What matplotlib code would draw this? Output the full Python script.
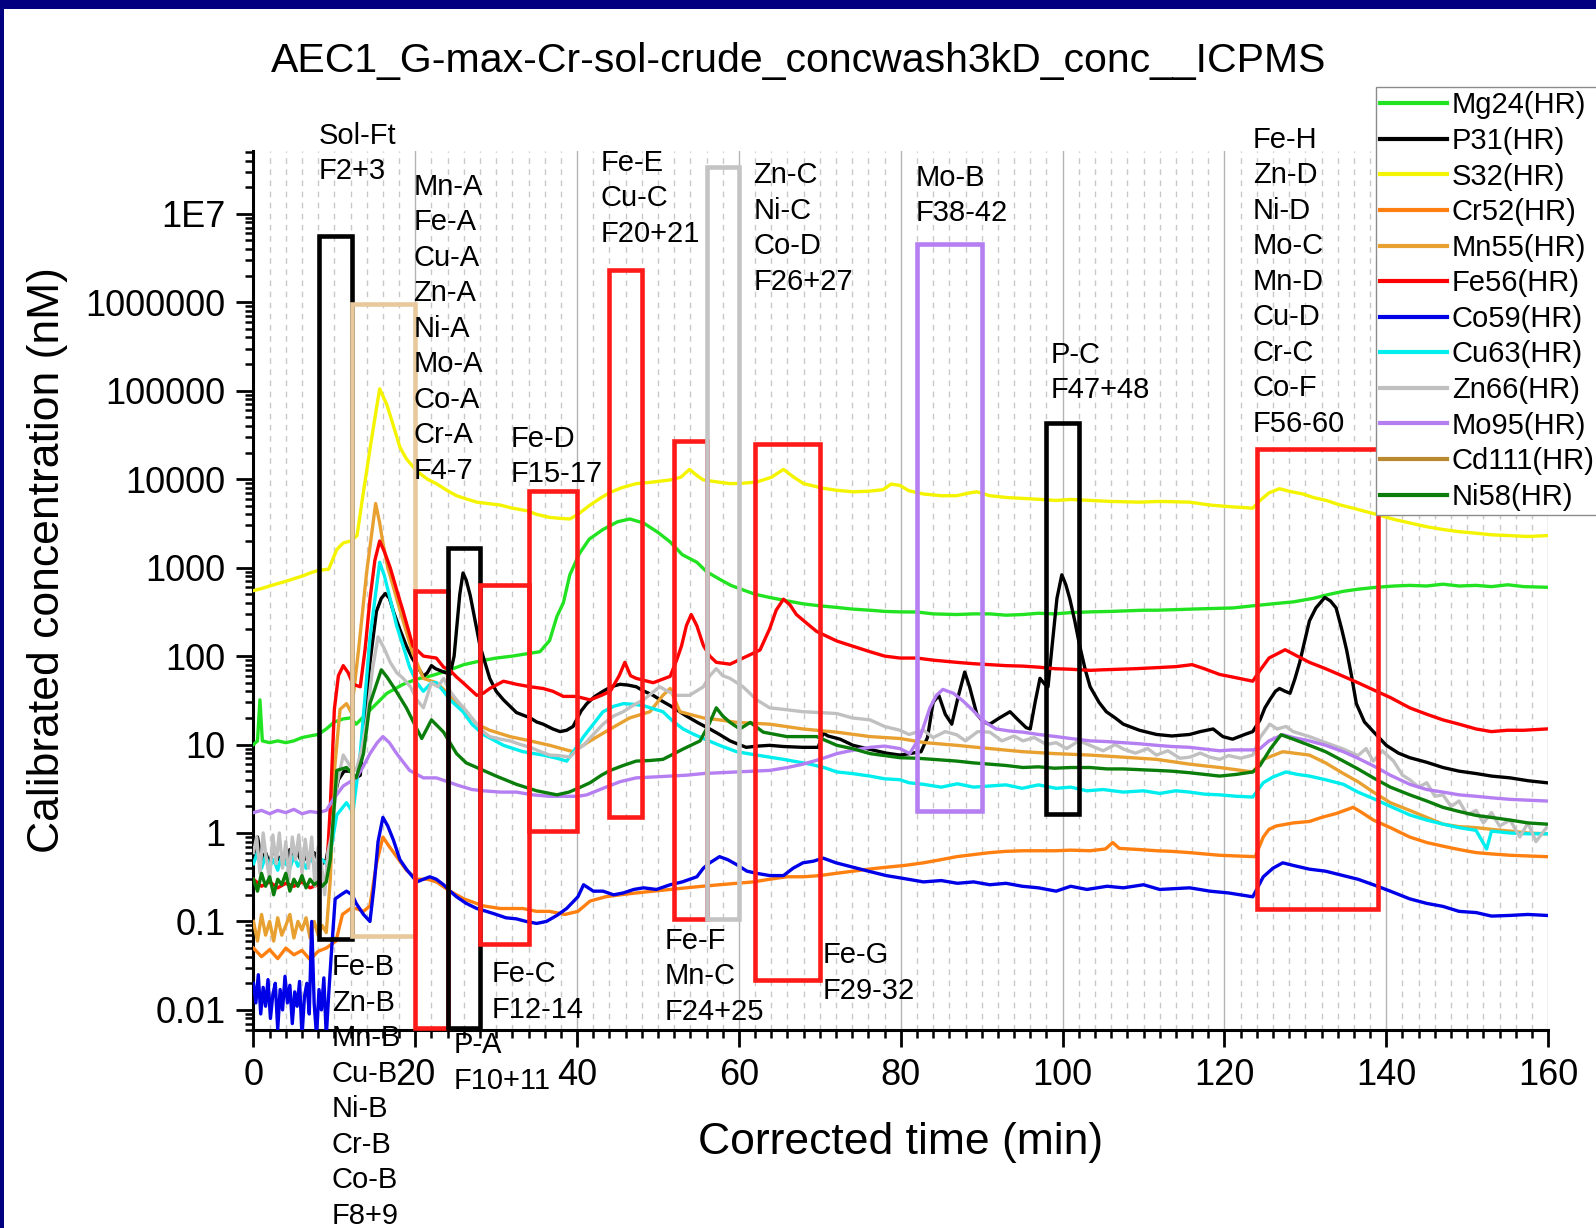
import matplotlib
matplotlib.use('Agg')
import matplotlib.pyplot as plt
from matplotlib.patches import Rectangle
from matplotlib.ticker import FixedLocator, MultipleLocator, NullFormatter

plt.rcParams['font.family'] = ['Liberation Sans', 'DejaVu Sans']

# --- CONFIGURATION ---
TITLE = 'AEC1_G-max-Cr-sol-crude_concwash3kD_conc__ICPMS'
X_LABEL = 'Corrected time (min)'
Y_LABEL = 'Calibrated concentration (nM)'

X_TICKS = [0, 20, 40, 60, 80, 100, 120, 140, 160]
Y_TICKS = [0.01, 0.1, 1, 10, 100, 1000, 10000, 100000, 1000000, 1e7]
Y_TICK_LABELS = ['0.01', '0.1', '1', '10', '100', '1000', '10000', '100000', '1000000', '1E7']

# --- DATA: (time min, concentration nM) ---
MG24 = [(0, 10), (0.5, 11), (0.8, 32), (1.1, 11), (2, 10.5), (3, 11), (4, 10.5), (5, 11), (6, 12),
        (7, 12.5), (8, 13), (9, 15), (10, 18), (11.1, 19.5), (12, 20), (12.7, 17), (14.5, 25),
        (16.5, 38), (18.5, 48), (20.2, 55), (22, 60), (23.9, 68), (26, 80), (28, 88), (30, 95),
        (32, 100), (34, 107), (35.4, 112), (36.6, 150), (37.5, 280), (38.3, 400), (39.1, 830),
        (40.3, 1450), (41.5, 2100), (43.2, 2700), (45, 3300), (46.5, 3550), (48.2, 3200),
        (50, 2500), (51.5, 1950), (53, 1400), (54.8, 1150), (56, 900), (57.6, 740), (59, 630),
        (60.5, 560), (62, 500), (63.8, 460), (66, 420), (67.9, 390), (70, 370), (72.1, 355),
        (74, 340), (76.2, 330), (78, 320), (79.9, 316), (82, 315), (84, 300), (86.9, 295),
        (89, 300), (91, 300), (93, 290), (95.1, 295), (97, 305), (99, 300), (101, 310),
        (103.4, 316), (106, 320), (108, 325), (110, 330), (111.6, 330), (114, 335), (116, 340),
        (119.4, 347), (121, 350), (123.5, 370), (126, 390), (128.5, 410), (131, 450), (133, 500),
        (134.7, 540), (136.5, 570), (138.8, 600), (141, 620), (142.9, 630), (145, 620), (147, 650),
        (149, 620), (151.1, 630), (153, 610), (155, 640), (157, 610), (159.8, 600)]

P31 = [(0, 0.55), (0.5, 0.9), (1, 0.5), (1.5, 0.6), (2, 0.45), (2.5, 0.7), (3, 0.5), (3.5, 0.55),
       (4, 0.45), (4.5, 0.65), (5, 0.5), (5.5, 0.6), (6, 0.45), (6.5, 0.55), (7, 0.5), (7.5, 0.6),
       (8, 0.5), (8.5, 0.45), (9, 0.5), (9.5, 0.9), (10, 2.5), (10.5, 4), (11.2, 5), (12, 5),
       (12.7, 4.2), (13.2, 4.5), (13.8, 20), (14.4, 85), (15.2, 320), (15.8, 450), (16.3, 510),
       (16.8, 450), (17.3, 320), (18.1, 200), (18.9, 130), (19.6, 95), (20.2, 78), (21, 59),
       (21.5, 65), (22, 78), (22.5, 72), (23, 69), (24.3, 62), (24.8, 100), (25.1, 200),
       (25.5, 500), (25.9, 870), (26.3, 720), (26.8, 480), (27.4, 250), (28, 130), (28.6, 85),
       (29.2, 56), (30, 40), (30.9, 32), (32.5, 23), (34.2, 20), (35, 18), (35.8, 17), (37, 15),
       (37.9, 14), (38.7, 14.5), (39.5, 16), (40.5, 24), (41.2, 29), (42.2, 35), (43.2, 40),
       (44.2, 45), (45.3, 48), (46.3, 47), (47.3, 45), (48.3, 40), (49.4, 36), (50.5, 31),
       (51.5, 27.5), (52.5, 24), (53.5, 21), (55, 17.5), (56.4, 15), (57.6, 13), (58.9, 11),
       (60, 10), (60.9, 9.3), (62.3, 9.6), (63.8, 9.8), (65.5, 9.5), (67.9, 9.3), (69.8, 9.3),
       (70.4, 13.5), (71, 12.5), (72.5, 11.5), (74.1, 9.8), (76, 8.9), (78.2, 8), (79.9, 7.6),
       (81.1, 7.9), (82.5, 8.3), (83.3, 12), (84.0, 30), (84.7, 36), (85.5, 22), (86.3, 17),
       (87.1, 35), (87.9, 66), (88.5, 45), (89.4, 22), (90.2, 18), (91, 17), (92.2, 20),
       (93.5, 23.5), (94.5, 19), (95.5, 15.5), (96, 15), (96.6, 30), (97.2, 56), (97.8, 48),
       (98.2, 45), (98.7, 130), (99.3, 450), (99.9, 830), (100.4, 640), (100.9, 440), (101.5, 250),
       (102.1, 132), (102.8, 70), (103.4, 45), (104.5, 30), (105.4, 23.5), (106.5, 20),
       (107.5, 17), (109.5, 14.5), (111.6, 13), (113.5, 12.5), (115.7, 13), (117, 14),
       (118.6, 15), (119.8, 12.3), (121, 11.5), (122.5, 13), (123.5, 14), (124.4, 19), (125, 26),
       (125.6, 32), (126.3, 40), (126.8, 43), (127.5, 40), (128.1, 38), (128.7, 55), (129.3, 85),
       (130, 160), (130.5, 250), (131.3, 350), (132.4, 460), (133.1, 420), (133.8, 350),
       (134.5, 200), (135.1, 117), (135.7, 60), (136.3, 29), (137.3, 18), (138.4, 14), (140, 9.8),
       (141.5, 8), (142.9, 7.1), (145, 6.3), (147, 5.5), (149, 5), (151.1, 4.7), (153, 4.4),
       (155.3, 4.2), (157.5, 3.9), (159.8, 3.7)]

S32 = [(0, 550), (1, 580), (2, 620), (3, 660), (4, 700), (5, 750), (6, 800), (7, 870), (8, 930),
       (9.3, 960), (10.3, 1600), (11.1, 1900), (12, 2000), (12.8, 2300), (13.5, 6300), (14.5, 25000),
       (15.2, 63000), (15.6, 105000), (16.5, 69000), (17.3, 40000), (18.1, 23000), (18.9, 17000),
       (20.2, 12300), (21.5, 10000), (22.6, 8900), (24, 7400), (25.1, 6500), (26.5, 5900),
       (27.6, 5500), (29, 5300), (30.5, 5100), (32, 4700), (33.8, 4400), (35, 4000), (36.6, 3700),
       (38, 3600), (39.1, 3550), (40.1, 4000), (41.6, 5100), (43, 6200), (44.1, 7100), (45.5, 8000),
       (47.3, 8900), (49, 9200), (51.5, 9800), (52.8, 10500), (53.9, 12900), (54.8, 11000),
       (55.6, 9800), (57, 9400), (58.9, 8900), (60.5, 9000), (62.2, 9300), (64, 10500),
       (65.5, 12900), (66.8, 10500), (68, 8900), (70.4, 7900), (72, 7500), (74.1, 7200),
       (76, 7300), (77.8, 7600), (78.8, 8800), (79.9, 8500), (81, 7400), (82.8, 6800), (85, 6500),
       (86.9, 6500), (88.5, 7000), (89.4, 7200), (91, 6500), (93.1, 6200), (96, 6000),
       (99.2, 5750), (101, 5900), (103.4, 5750), (106, 5600), (109.5, 5500), (112, 5600),
       (115.7, 5500), (118.2, 5100), (120.5, 4900), (123.5, 4700), (124.4, 5750), (125.5, 7000),
       (126.8, 7800), (128, 7300), (129.7, 6800), (131, 6200), (132.6, 5750), (134, 5200),
       (135.9, 4700), (137.5, 4300), (138.8, 4000), (141, 3500), (142.9, 3200), (145, 2900),
       (147, 2700), (149, 2550), (151.1, 2450), (153, 2350), (155.3, 2300), (157.5, 2250),
       (159.8, 2300)]

CR52 = [(0, 0.05), (1, 0.04), (2, 0.048), (3, 0.038), (4, 0.05), (5, 0.042), (6, 0.047), (7, 0.037),
        (8, 0.046), (9, 0.05), (10.2, 0.06), (11, 0.12), (12, 0.14), (12.7, 0.14), (13.6, 0.13),
        (14.4, 0.15), (15.2, 0.45), (16, 0.9), (16.8, 0.7), (17.7, 0.54), (18.9, 0.38), (20.2, 0.3),
        (21.5, 0.3), (22.6, 0.28), (24.3, 0.22), (26, 0.18), (28.4, 0.15), (30.5, 0.14),
        (33.3, 0.14), (35, 0.13), (36.6, 0.13), (38.5, 0.12), (40.1, 0.13), (41.6, 0.17),
        (43.5, 0.19), (45.3, 0.2), (47.3, 0.21), (49.4, 0.22), (51.5, 0.23), (53.5, 0.24),
        (55.5, 0.25), (57.6, 0.26), (59.7, 0.27), (61.8, 0.28), (63.8, 0.3), (65.9, 0.32),
        (68, 0.32), (70, 0.33), (72, 0.35), (74.1, 0.37), (76, 0.39), (78.2, 0.41), (80.5, 0.43),
        (82.8, 0.46), (85, 0.5), (86.9, 0.54), (89, 0.57), (91, 0.6), (93, 0.62), (95.1, 0.63),
        (97, 0.63), (99.2, 0.63), (101, 0.64), (103.4, 0.63), (105.3, 0.66), (106.2, 0.78),
        (107, 0.67), (109.5, 0.65), (111.6, 0.63), (113.5, 0.62), (115.7, 0.6), (117.5, 0.58),
        (119.4, 0.56), (121.5, 0.55), (123.8, 0.54), (124.8, 0.9), (125.5, 1.1), (126.4, 1.2),
        (128.5, 1.3), (130.5, 1.35), (132, 1.5), (133.8, 1.66), (135.9, 1.95), (137, 1.7),
        (138.4, 1.4), (140.5, 1.15), (142.9, 0.9), (145, 0.78), (147, 0.71), (149, 0.65),
        (151.1, 0.6), (153, 0.58), (155.3, 0.56), (157.5, 0.55), (159.8, 0.54)]

MN55 = [(0, 0.1), (0.5, 0.06), (1, 0.12), (1.5, 0.07), (2, 0.1), (2.5, 0.06), (3, 0.11), (3.5, 0.07),
        (4, 0.09), (4.5, 0.12), (5, 0.065), (5.5, 0.1), (6, 0.08), (6.5, 0.11), (7, 0.065),
        (7.5, 0.1), (8, 0.07), (8.5, 0.09), (9, 0.075), (9.5, 0.3), (10, 5), (10.7, 25),
        (11.5, 29), (12.1, 23), (13, 120), (14, 900), (15.1, 5300), (15.6, 3200), (16, 1900),
        (16.6, 1000), (17.3, 600), (18.5, 250), (19.7, 107), (21, 56), (22.6, 50), (24.3, 36),
        (25.9, 26), (27.6, 17), (29.2, 14.5), (31.7, 12.3), (34.2, 11), (36.6, 9.8), (39.5, 8.3),
        (41.6, 11), (44.1, 15), (46.5, 20), (49, 23.5), (50.6, 36), (51.5, 43), (52.7, 23.5),
        (55.6, 20), (57.6, 19), (59.7, 17.8), (63.8, 17), (67.9, 15), (72.1, 13.8), (76.2, 12.3),
        (79.9, 11.7), (83, 10.5), (86.9, 9.8), (91, 9), (95.1, 8.3), (99, 7.9), (103.4, 7.6),
        (107.5, 7.2), (111.6, 6.8), (115.7, 6), (119.4, 5.5), (123.5, 4.9), (124.8, 6.8),
        (127.2, 8.3), (130.5, 7.6), (132.5, 6.2), (134.7, 4.7), (136.5, 3.8), (138.4, 2.9),
        (140.5, 2.2), (142.9, 1.8), (145, 1.5), (147, 1.26), (149, 1.18), (151.1, 1.15),
        (153, 1.1), (155.3, 1.05), (157.5, 1.0), (159.8, 0.98)]

FE56 = [(0, 0.3), (1, 0.25), (2, 0.28), (3, 0.24), (4, 0.27), (5, 0.25), (6, 0.28), (7, 0.24),
        (8, 0.26), (9, 0.3), (9.5, 2), (10, 25), (10.5, 60), (11.1, 78), (11.7, 65), (12.3, 48),
        (13.2, 45), (13.8, 120), (14.4, 440), (15, 1200), (15.6, 2000), (16.2, 1500), (16.9, 1000),
        (17.7, 560), (18.5, 320), (19.7, 130), (21, 100), (22.6, 95), (23.5, 75), (24.3, 69),
        (25.1, 58), (25.9, 50), (27.6, 36), (28.4, 38), (29.2, 43), (30.9, 52), (32.5, 48),
        (34.2, 45), (35.8, 43), (37, 40), (38.3, 35), (39.9, 35), (41.6, 32), (43, 36), (44.1, 40),
        (45.2, 60), (45.9, 85), (46.6, 60), (47.3, 56), (49.4, 50), (51.5, 59), (52.3, 90),
        (52.9, 130), (53.5, 220), (54.1, 295), (54.8, 220), (55.6, 132), (56.4, 100), (57.2, 85),
        (58.9, 81), (60.5, 95), (62.6, 117), (63.8, 204), (64.6, 330), (65.5, 440), (66.3, 380),
        (67.1, 295), (68.5, 230), (69.6, 190), (71, 165), (72.1, 148), (74, 130), (76.2, 112),
        (78, 100), (79.9, 95), (82, 95), (84, 90), (86.9, 85), (89, 82), (91, 80), (93, 78),
        (95.1, 77), (97, 75), (99, 72), (101, 71), (103.4, 69), (105, 70), (107, 71), (109, 72),
        (111.6, 74), (114, 76), (116, 80), (117.5, 72), (119.4, 62), (121, 58), (123.5, 52),
        (124.4, 69), (125.5, 95), (127.5, 118), (129, 100), (130.5, 85), (132.5, 72), (134.7, 59),
        (136.5, 50), (138.8, 40), (140.5, 34), (142.9, 26), (145, 22), (147, 19), (149, 17),
        (151.1, 15), (153, 14), (155, 14.5), (157, 14.5), (159.8, 15)]

CO59 = [(0, 0.02), (0.3, 0.012), (0.6, 0.025), (0.9, 0.009), (1.2, 0.018), (1.5, 0.011), (1.8, 0.022),
        (2.1, 0.008), (2.4, 0.015), (2.7, 0.02), (3.0, 0.006), (3.3, 0.017), (3.6, 0.01), (3.9, 0.024),
        (4.2, 0.012), (4.5, 0.019), (4.8, 0.007), (5.1, 0.016), (5.4, 0.011), (5.7, 0.021),
        (6.0, 0.005), (6.3, 0.014), (6.6, 0.02), (6.9, 0.009), (7.2, 0.1), (7.5, 0.012), (7.8, 0.005),
        (8.1, 0.017), (8.4, 0.01), (8.7, 0.023), (9.0, 0.005), (9.3, 0.015), (9.6, 0.04),
        (10.1, 0.18), (10.8, 0.2), (11.5, 0.22), (12.2, 0.2), (12.7, 0.16), (13.6, 0.12),
        (14.4, 0.1), (14.9, 0.25), (15.4, 0.8), (16, 1.5), (16.6, 1.2), (17.3, 0.83), (18.1, 0.5),
        (18.9, 0.39), (20.2, 0.28), (21, 0.3), (21.8, 0.32), (22.6, 0.3), (23.5, 0.26), (24.3, 0.22),
        (25.1, 0.19), (26.3, 0.16), (27.6, 0.14), (28.8, 0.13), (30, 0.12), (31.2, 0.11),
        (32.5, 0.107), (33.7, 0.1), (35, 0.095), (36.2, 0.1), (37.5, 0.117), (38.7, 0.14),
        (40.1, 0.19), (40.8, 0.26), (42, 0.22), (43.2, 0.22), (44.5, 0.2), (45.7, 0.21), (47, 0.23),
        (48.2, 0.24), (49.8, 0.23), (51.5, 0.26), (53, 0.28), (54.8, 0.32), (55.6, 0.4),
        (56.4, 0.46), (57.6, 0.54), (58.6, 0.5), (59.7, 0.44), (61, 0.37), (62.2, 0.35),
        (63.8, 0.33), (65.5, 0.33), (66.7, 0.4), (67.9, 0.46), (69.2, 0.48), (70.4, 0.52),
        (72, 0.46), (74.1, 0.41), (76, 0.37), (78.2, 0.33), (80, 0.31), (82.8, 0.28), (85, 0.29),
        (87, 0.27), (89, 0.28), (91, 0.26), (93, 0.27), (95, 0.25), (97, 0.24), (99.2, 0.22),
        (101, 0.25), (103, 0.23), (105.5, 0.25), (107.5, 0.24), (110, 0.26), (112, 0.23),
        (115.7, 0.24), (118.2, 0.22), (120.5, 0.21), (123.5, 0.19), (124.8, 0.32), (126, 0.4),
        (127.2, 0.46), (128.5, 0.43), (130.5, 0.39), (132.5, 0.37), (134.7, 0.33), (136.5, 0.3),
        (138.4, 0.26), (140.5, 0.22), (142.9, 0.18), (145, 0.16), (147, 0.148), (149, 0.13),
        (151.1, 0.126), (153, 0.115), (155.3, 0.117), (157.5, 0.12), (159.8, 0.117)]

CU63 = [(0, 0.45), (0.5, 0.6), (1, 0.4), (1.5, 0.55), (2, 0.42), (2.5, 0.5), (3, 0.38), (3.5, 0.55),
        (4, 0.45), (4.5, 0.4), (5, 0.55), (5.5, 0.42), (6, 0.5), (6.5, 0.4), (7, 0.52), (7.5, 0.45),
        (8, 0.42), (8.5, 0.5), (9, 0.45), (9.5, 0.6), (10.3, 1.6), (11.5, 2.2), (12.3, 1.7),
        (13.2, 8), (14.4, 160), (15.6, 1150), (16.2, 800), (16.9, 440), (17.7, 220), (18.5, 130),
        (19.3, 75), (20.2, 50), (21, 40), (22, 50), (22.6, 50), (23.5, 40), (24.3, 32),
        (25.9, 23.5), (27, 17), (28.4, 13), (30.9, 9.8), (33.3, 8.3), (35.8, 7.6), (37.5, 7),
        (38.7, 6.5), (40.1, 9.8), (40.8, 12.3), (42, 17), (43.2, 23.5), (44.5, 27), (45.7, 29),
        (47, 28.5), (48.2, 27.5), (50.6, 23.5), (51.8, 18.5), (53.1, 15), (54.3, 13.2),
        (55.6, 11.7), (57.6, 9.8), (59.7, 8.3), (62.2, 7.6), (65.5, 6.8), (68.8, 6), (70.5, 5.5),
        (72.1, 4.9), (74, 4.7), (76.2, 4.4), (78, 4.1), (79.9, 4.0), (81, 3.7), (82.8, 3.55),
        (85, 3.3), (87, 3.6), (89, 3.3), (91, 3.4), (93, 3.5), (95, 3.2), (97, 3.5), (99.2, 3.2),
        (101, 3.3), (103, 3.0), (105, 3.1), (107.5, 2.9), (110, 3.0), (112, 2.8), (114, 3.0),
        (115.7, 2.9), (117.5, 2.75), (119.4, 2.7), (121.5, 2.6), (123.5, 2.55), (124.8, 3.7),
        (126, 4.3), (127.6, 4.9), (129, 4.6), (130.5, 4.4), (132.5, 4.0), (134.7, 3.55),
        (136.5, 2.9), (138.4, 2.45), (140.5, 2.0), (142.9, 1.6), (145, 1.4), (147, 1.26),
        (149, 1.15), (151.1, 1.07), (152.4, 0.66), (153, 1.05), (155.3, 1.0), (157.5, 0.98),
        (159.8, 0.98)]

ZN66 = [(0, 0.6), (0.4, 0.9), (0.8, 0.35), (1.2, 1.0), (1.6, 0.5), (2.0, 0.3), (2.4, 0.95), (2.8, 0.45),
        (3.2, 1.0), (3.6, 0.4), (4.0, 0.8), (4.4, 0.3), (4.8, 0.9), (5.2, 0.5), (5.6, 0.95),
        (6.0, 0.35), (6.4, 0.85), (6.8, 0.4), (7.2, 0.9), (7.6, 0.25), (8.0, 0.7), (8.4, 0.45),
        (8.8, 0.2), (9.2, 0.6), (9.6, 0.9), (10.3, 3.5), (11.1, 7.6), (11.9, 5.8), (12.7, 5.1),
        (13.4, 9), (14, 19), (14.7, 70), (15.4, 165), (16.2, 120), (16.9, 85), (17.7, 65),
        (18.5, 56), (19.4, 45), (20.2, 32), (21, 26), (22, 50), (22.8, 45), (23.5, 56), (24.3, 40),
        (25.1, 32), (26.3, 24), (27.6, 17), (28.4, 14), (29.2, 12.3), (30.5, 11.5), (31.7, 11),
        (33, 10), (34.2, 9.3), (35.5, 8.3), (36.6, 7.6), (37.8, 7.5), (39.1, 7.2), (40.1, 8.9),
        (40.8, 9.8), (42, 13), (43.2, 17), (44.5, 21), (45.7, 23.5), (47, 28), (48.2, 32),
        (49.2, 38), (50.2, 45), (51.2, 40), (52.3, 36), (53.9, 36), (55.6, 45), (56.4, 60),
        (57.2, 72), (58, 60), (58.9, 56), (60.5, 45), (62.2, 32), (63.8, 26), (65.5, 25),
        (67.9, 23.5), (70, 23), (72.1, 22.4), (74, 20), (76.2, 19), (78, 16), (79.9, 14.5),
        (81, 13), (82.8, 14.5), (84, 12), (85.5, 14), (86.9, 12.9), (88, 11), (89.5, 14),
        (91, 13.8), (92.5, 11), (94, 12.5), (95.1, 11), (96.5, 12), (98, 10), (99.2, 10.5),
        (100.5, 9), (102, 11), (103.4, 9.8), (105, 8.5), (106.5, 10), (107.5, 8.9), (109, 8),
        (110.5, 9), (111.6, 7.6), (113, 8.5), (114.5, 7), (115.7, 7.2), (117, 8), (118.2, 7.2),
        (119.4, 6.8), (120.5, 7.5), (122, 7), (123.5, 7.6), (124.4, 12), (125.6, 17), (126.5, 15),
        (127.6, 16), (128.5, 14), (130.5, 12.3), (132.5, 10.5), (134.7, 8.9), (136.5, 7.5),
        (137.5, 9), (138.4, 6.5), (139.5, 8.5), (140.9, 6.5), (142, 4.5), (142.9, 4.0), (144, 3.3),
        (145, 3.7), (146, 2.6), (147, 2.7), (148, 2.0), (149, 2.3), (150, 1.6), (151.1, 1.8),
        (152, 1.3), (153, 1.7), (154, 1.2), (155.3, 1.4), (156.5, 0.9), (157.5, 1.3), (158.5, 0.8),
        (159.8, 1.15)]

MO95 = [(0, 1.7), (1, 1.8), (2, 1.65), (3, 1.8), (4, 1.7), (5, 1.85), (6, 1.65), (7, 1.75), (8, 1.7),
        (9, 1.8), (10, 2.5), (11.1, 3.4), (12.7, 4.2), (13.5, 5.5), (14.4, 7.9), (15.3, 10.5),
        (16, 12.3), (16.8, 10.5), (17.7, 7.9), (19.3, 5.1), (21, 4.2), (22.6, 4.2), (24, 3.8),
        (25.1, 3.5), (27, 3.1), (28.4, 3.0), (30.5, 2.9), (32.5, 2.9), (34.5, 2.7), (36.6, 2.6),
        (38.5, 2.6), (40.1, 2.6), (41.2, 2.7), (43.2, 3.2), (45.3, 3.8), (47.3, 4.2), (49.5, 4.3),
        (51.5, 4.4), (53.5, 4.5), (55.6, 4.7), (57.6, 4.8), (59.7, 4.9), (61.8, 5.0), (63.8, 5.1),
        (66, 5.5), (67.9, 6.0), (70, 6.8), (72.1, 7.9), (74, 8.6), (76.2, 9.3), (78, 9.6),
        (79.9, 9.0), (81.1, 7.9), (82.4, 12.3), (83.6, 26), (84.4, 36), (85.2, 42), (86.5, 38),
        (87.7, 31), (88.8, 25), (89.8, 20), (90.8, 17), (91.8, 15), (93.5, 14.2), (95.1, 13.8),
        (97, 13), (99.2, 12.3), (101, 11.7), (103.4, 11), (105.5, 10.8), (107.5, 10.5),
        (109.5, 10.2), (111.6, 9.8), (113.5, 9.5), (115.7, 9.3), (117.5, 8.9), (119.4, 8.5),
        (121, 8.7), (123.5, 8.7), (124.4, 9.0), (125.5, 11), (127.2, 12.9), (128.5, 12),
        (130.5, 11), (132.5, 9.8), (134.7, 8.3), (136.5, 7), (138.8, 5.5), (140.5, 4.5),
        (142.9, 3.55), (145, 3.1), (147, 2.9), (149, 2.7), (151.1, 2.6), (153, 2.5), (155.3, 2.4),
        (157.5, 2.35), (159.8, 2.3)]

CD111 = []  # only present in the legend

NI58 = [(0, 0.3), (0.5, 0.22), (1, 0.35), (1.5, 0.25), (2, 0.32), (2.5, 0.2), (3, 0.3), (3.5, 0.26),
        (4, 0.35), (4.5, 0.22), (5, 0.3), (5.5, 0.25), (6, 0.33), (6.5, 0.24), (7, 0.3), (7.5, 0.26),
        (8, 0.28), (8.5, 0.25), (9, 0.28), (9.5, 0.5), (10.3, 5.1), (11.5, 5.5), (12.7, 4.2),
        (13.6, 7.9), (14.4, 29), (15.8, 70), (16.5, 58), (17.3, 45), (18.9, 26), (20.2, 15),
        (20.8, 11.7), (22, 19), (23.5, 13.8), (25.1, 7.9), (26.3, 6.2), (27.6, 5.5), (30, 4.4),
        (32.5, 3.55), (35, 3.0), (37.5, 2.7), (39, 2.9), (40.1, 3.2), (41.6, 3.7), (43, 4.5),
        (44.1, 5.1), (45.7, 5.8), (47.3, 6.5), (49, 6.6), (50.6, 6.8), (52, 7.9), (53.1, 8.9),
        (55.2, 11), (56.3, 17), (57.2, 26), (58, 21), (58.9, 17.8), (60.1, 15), (61.4, 17.8),
        (63, 13.8), (65.9, 12.3), (69.6, 12.3), (72.1, 9.8), (74, 9.0), (76.2, 7.9), (78, 7.5),
        (79.9, 7.1), (82, 7.0), (84, 6.8), (86.9, 6.5), (89, 6.2), (91, 6.0), (93, 5.8), (95.1, 5.5),
        (97, 5.6), (99, 5.4), (101, 5.5), (103.4, 5.5), (105.5, 5.3), (107.5, 5.3), (109.5, 5.2),
        (111.6, 5.1), (113.5, 5.0), (115.7, 4.8), (117.5, 4.6), (119.4, 4.4), (121.5, 4.6),
        (123.5, 4.9), (124.4, 5.8), (125.7, 9), (127, 12.9), (128.5, 11.5), (130.5, 9.8),
        (132.5, 8.3), (134.7, 6.5), (136.5, 5.3), (138.4, 4.2), (140.5, 3.3), (142.9, 2.7),
        (145, 2.3), (147, 1.95), (149, 1.75), (151.1, 1.58), (153, 1.5), (155.3, 1.4), (157.5, 1.3),
        (159.8, 1.26)]

SERIES = [
    ('Mg24(HR)', MG24, '#22e322'),
    ('P31(HR)', P31, '#000000'),
    ('S32(HR)', S32, '#f4f400'),
    ('Cr52(HR)', CR52, '#ff8010'),
    ('Mn55(HR)', MN55, '#e8a030'),
    ('Fe56(HR)', FE56, '#ff0000'),
    ('Co59(HR)', CO59, '#0000e8'),
    ('Cu63(HR)', CU63, '#00eeee'),
    ('Zn66(HR)', ZN66, '#c0c0c0'),
    ('Mo95(HR)', MO95, '#b57ff2'),
    ('Cd111(HR)', CD111, '#b8892e'),
    ('Ni58(HR)', NI58, '#0b7d0b'),
]

# fraction boxes: (t start, t end, bottom nM, top nM, colour)
BOXES = [
    (8.05, 12.2, 0.063, 5.6e6, '#000000'),
    (12.2, 20.0, 0.068, 9.5e5, '#e8c99b'),
    (20.0, 24.0, 0.0063, 540, '#ff1a1a'),
    (24.0, 28.0, 0.0063, 1650, '#000000'),
    (28.0, 34.0, 0.055, 640, '#ff1a1a'),
    (34.0, 40.0, 1.06, 7300, '#ff1a1a'),
    (44.0, 48.0, 1.5, 2.3e6, '#ff1a1a'),
    (52.0, 56.0, 0.107, 2.7e4, '#ff1a1a'),
    (56.0, 60.0, 0.107, 3.4e7, '#c4c4c4'),
    (62.0, 70.0, 0.022, 2.5e4, '#ff1a1a'),
    (82.0, 90.0, 1.75, 4.6e6, '#b57ff2'),
    (98.0, 102.0, 1.65, 4.3e4, '#000000'),
    (124.0, 139.0, 0.14, 2.2e4, '#ff1a1a'),
]

# fraction labels: (left t, block centre nM, text)
LABELS = [
    (8.05, 4.8e7, 'Sol-Ft\nF2+3'),
    (19.75, 5.0e5, 'Mn-A\nFe-A\nCu-A\nZn-A\nNi-A\nMo-A\nCo-A\nCr-A\nF4-7'),
    (31.8, 1.8e4, 'Fe-D\nF15-17'),
    (42.9, 1.5e7, 'Fe-E\nCu-C\nF20+21'),
    (61.8, 6.8e6, 'Zn-C\nNi-C\nCo-D\nF26+27'),
    (81.8, 1.6e7, 'Mo-B\nF38-42'),
    (98.5, 1.6e5, 'P-C\nF47+48'),
    (123.5, 1.7e6, 'Fe-H\nZn-D\nNi-D\nMo-C\nMn-D\nCu-D\nCr-C\nCo-F\nF56-60'),
    (9.7, 1.2e-3, 'Fe-B\nZn-B\nMn-B\nCu-B\nNi-B\nCr-B\nCo-B\nF8+9'),
    (24.8, 2.5e-3, 'P-A\nF10+11'),
    (29.4, 0.016, 'Fe-C\nF12-14'),
    (50.8, 0.024, 'Fe-F\nMn-C\nF24+25'),
    (70.4, 0.026, 'Fe-G\nF29-32'),
]


def draw():
    fig = plt.figure(figsize=(15.96, 12.28), dpi=100, facecolor='#000080')
    # white page inside the dark blue frame
    fig.patches.append(Rectangle((4 / 1596, 0), 1, 1 - 9 / 1228, transform=fig.transFigure,
                                 facecolor='white', edgecolor='none', zorder=-10))

    ax = fig.add_axes([0.1588, 0.1612, 0.8112, 0.7162])
    ax.set_facecolor('none')

    for name, pts, color in SERIES:
        ts = [p[0] for p in pts]
        vs = [p[1] for p in pts]
        ax.plot(ts, vs, color=color, lw=2.4, label=name, zorder=3)

    for t0, t1, lo, hi, color in BOXES:
        ax.add_patch(Rectangle((t0, lo), t1 - t0, hi - lo, fill=False, edgecolor=color,
                               lw=3.3, zorder=5, clip_on=False))

    for t, y, txt in LABELS:
        ax.text(t, y, txt, fontsize=21, ha='left', va='center', linespacing=1.34,
                zorder=6, clip_on=False)

    ax.set_yscale('log')
    ax.set_xlim(0, 160)
    ax.set_ylim(0.00592, 5.19e7)

    ax.set_xticks(X_TICKS)
    ax.xaxis.set_minor_locator(MultipleLocator(2))
    ax.set_yticks(Y_TICKS, Y_TICK_LABELS)
    minor_y = [m * 10.0 ** e for e in range(-3, 8) for m in range(2, 10)]
    ax.yaxis.set_minor_locator(FixedLocator(minor_y))
    ax.yaxis.set_minor_formatter(NullFormatter())

    ax.tick_params(which='major', length=12, width=2, labelsize=26, pad=8)
    ax.tick_params(which='minor', length=6, width=1.8)

    ax.grid(which='major', axis='x', color='#b4b4b4', lw=1.0, linestyle='-')
    ax.grid(which='minor', axis='x', color='#c8c8c8', lw=1.0, linestyle=(0, (4, 4)))
    ax.grid(which='both', axis='y', visible=False)
    ax.set_axisbelow(True)

    for side in ['top', 'right']:
        ax.spines[side].set_visible(False)
    for side in ['left', 'bottom']:
        ax.spines[side].set_linewidth(2.2)

    fig.text(0.5003, 0.950, TITLE, fontsize=29.5, ha='center', va='center')
    fig.text(0.5645, 0.070, X_LABEL, fontsize=32, ha='center', va='center')
    fig.text(0.030, 0.544, Y_LABEL, fontsize=32, ha='center', va='center', rotation=90)

    leg = ax.legend(loc='upper left', bbox_to_anchor=(1376 / 1596, 1 - 87 / 1228),
                    bbox_transform=fig.transFigure, borderaxespad=0, fontsize=21,
                    handlelength=2.3, handletextpad=0.15, labelspacing=0.26,
                    borderpad=0.15, fancybox=False, framealpha=1)
    leg.get_frame().set_edgecolor('#8c8c8c')
    leg.get_frame().set_linewidth(1.0)
    for line in leg.get_lines():
        line.set_linewidth(3.0)

    fig.savefig('out.png', dpi=100, facecolor=fig.get_facecolor())


if __name__ == '__main__':
    draw()
